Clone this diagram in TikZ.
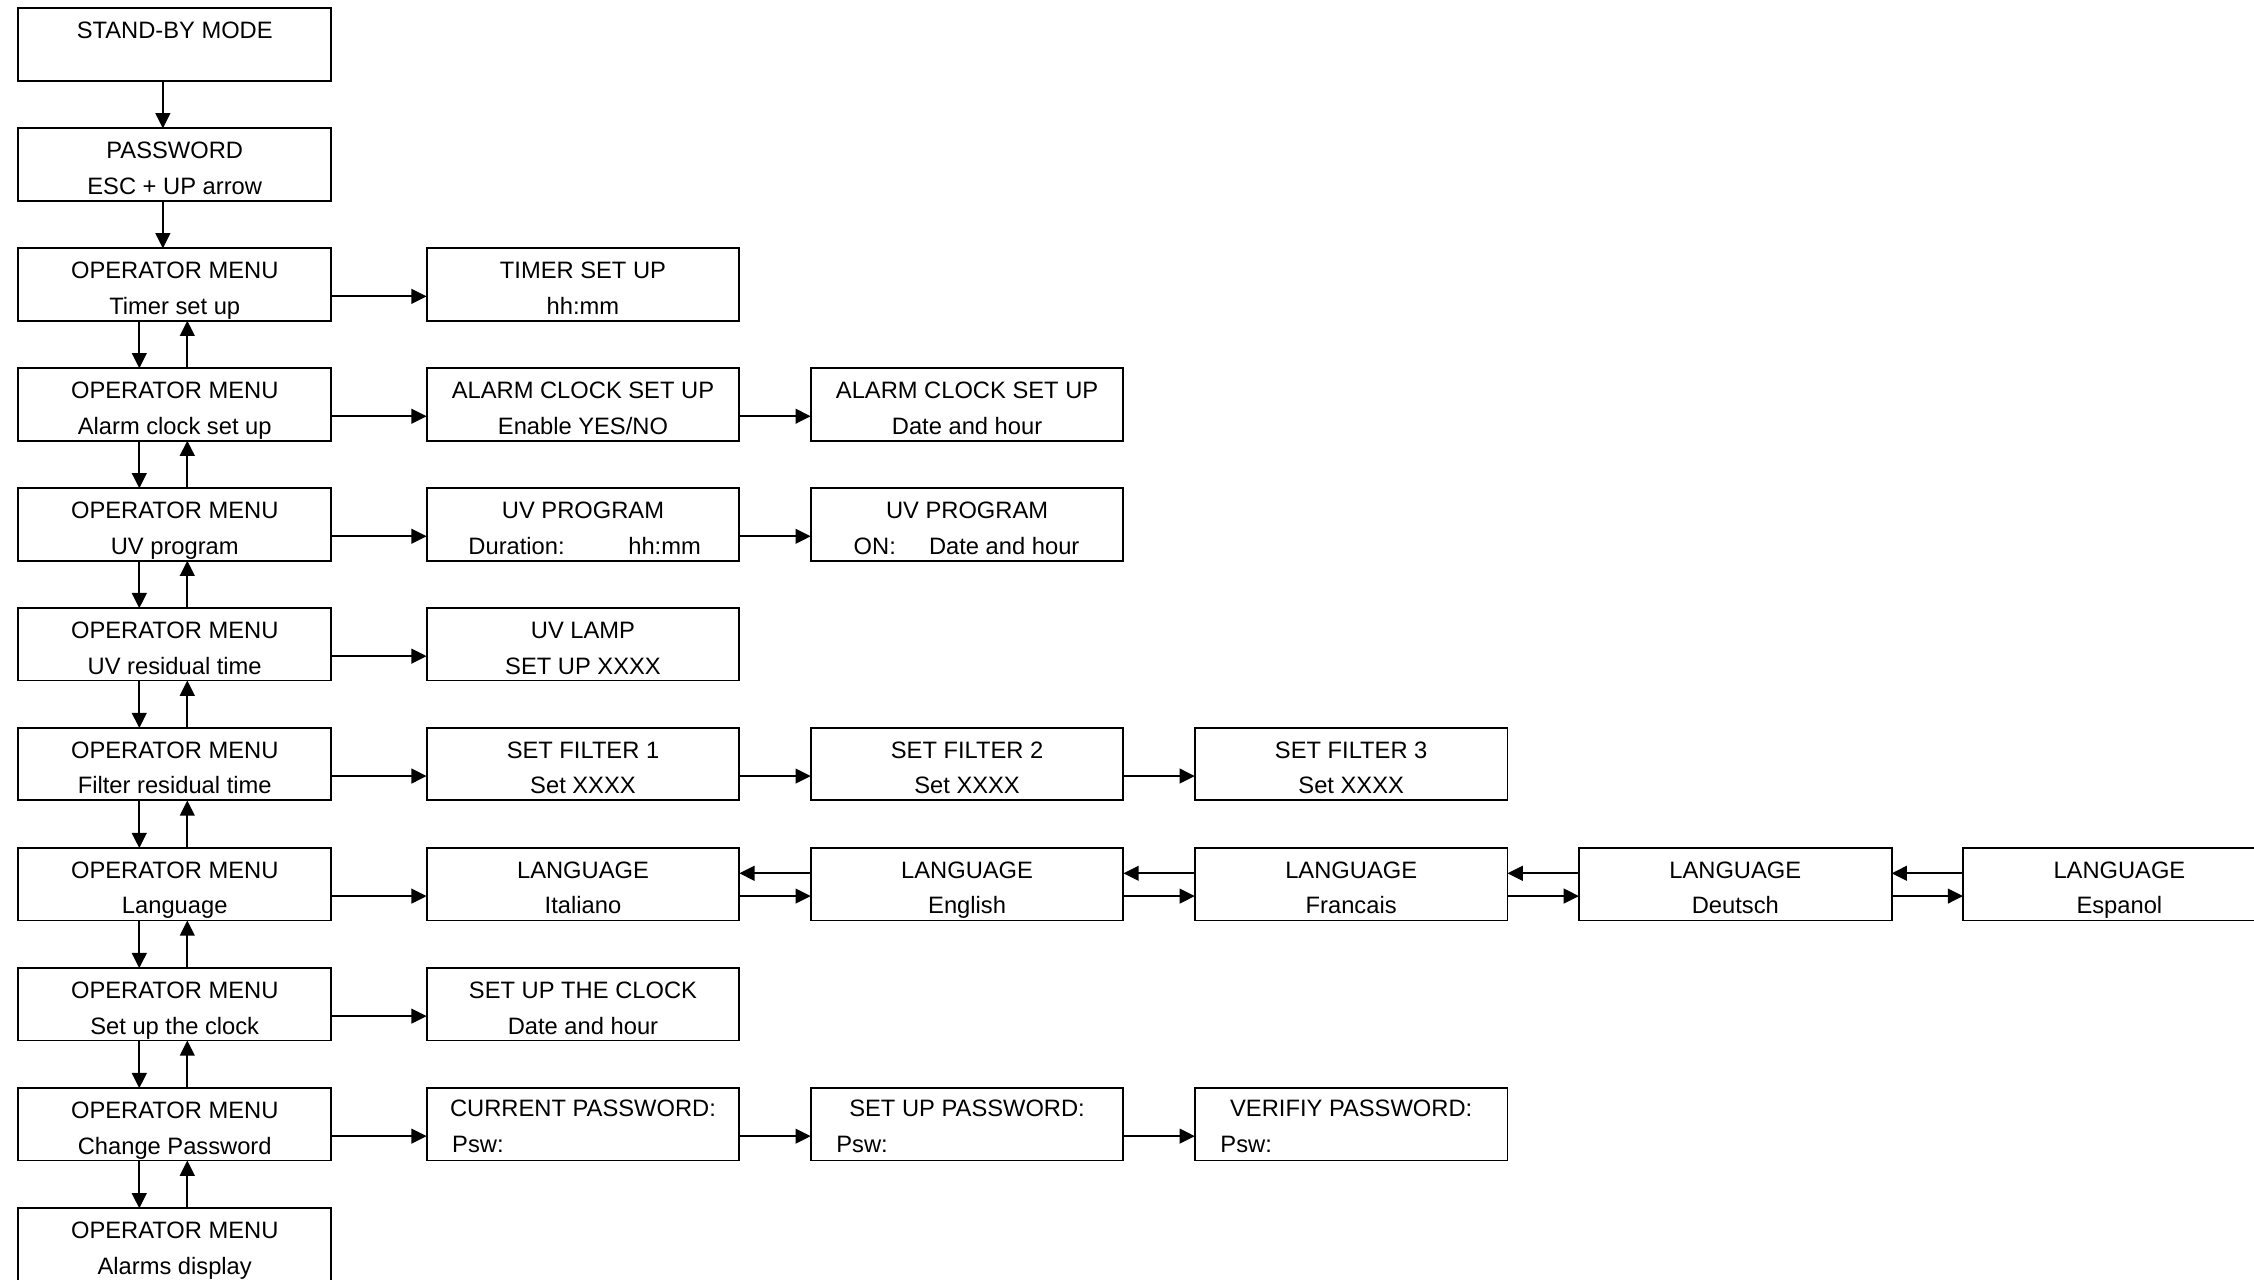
\documentclass[tikz,border=0pt]{standalone}
\usepackage{fontspec}
\setmainfont{Liberation Sans}
\usetikzlibrary{arrows.meta,calc}
\tikzset{
  bx/.style={draw, line width=0.65pt, minimum width=108.75pt, minimum height=25.15pt, inner sep=0pt, outer sep=0pt, anchor=north west},
  tx/.style={anchor=base, inner sep=0pt, font=\fontsize{8.25}{10}\selectfont},
  txl/.style={anchor=base west, inner sep=0pt, font=\fontsize{8.25}{10}\selectfont},
  arr/.style={line width=0.75pt, -{Triangle[length=5.3pt,width=5.1pt]}}
}
\newcommand\mkbox[5]{%
  \node[bx] (#1) at (#2,#3) {};
  \node[tx] (#1-a) at ({#2+108.75},{#3+21}) {#4};
  \node[tx] (#1-b) at ({#2+108.75},{#3+45.8}) {#5};
}
\newcommand\harr[2]{\draw[arr] ($(#1.east)+(0,8.2)$) -- ($(#2.west)+(0,8.2)$);}
\newcommand\larr[2]{\draw[arr] ($(#1.west)+(0,-7.65)$) -- ($(#2.east)+(0,-7.65)$);}
\newcommand\vpair[2]{%
  \draw[arr] ($(#1.south)+(-24.65,0)$) -- ($(#2.north)+(-24.65,0)$);
  \draw[arr] ($(#2.north)+(8.75,0)$) -- ($(#1.south)+(8.75,0)$);
}
\begin{document}
\begin{tikzpicture}[x=0.5pt,y=-0.5pt]
\clip (0,0) rectangle (1568,890);
\fill[white] (0,0) rectangle (1568,890);
% column 1
\node[bx] (sb) at (12.8,5.8) {};
\node[tx] (sb-a) at (121.55,26.8) {STAND-BY MODE};
\mkbox{pw}{12.8}{89.3}{PASSWORD}{ESC + UP arrow}
\mkbox{m3}{12.8}{172.8}{OPERATOR MENU}{Timer set up}
\mkbox{m4}{12.8}{256.2}{OPERATOR MENU}{Alarm clock set up}
\mkbox{m5}{12.8}{339.7}{OPERATOR MENU}{UV program}
\mkbox{m6}{12.8}{423.1}{OPERATOR MENU}{UV residual time}
\mkbox{m7}{12.8}{506.5}{OPERATOR MENU}{Filter residual time}
\mkbox{m8}{12.8}{590.0}{OPERATOR MENU}{Language}
\mkbox{m9}{12.8}{673.5}{OPERATOR MENU}{Set up the clock}
\mkbox{m10}{12.8}{757.0}{OPERATOR MENU}{Change Password}
\mkbox{m11}{12.8}{840.6}{OPERATOR MENU}{Alarms display}
% row 3
\mkbox{t1}{296.8}{172.8}{TIMER SET UP}{hh:mm}
% row 4
\mkbox{a1}{296.8}{256.2}{ALARM CLOCK SET UP}{Enable YES/NO}
\mkbox{a2}{564.0}{256.2}{ALARM CLOCK SET UP}{Date and hour}
% row 5
\node[bx] (u1) at (296.8,339.7) {};
\node[tx] (u1-a) at (405.55,360.7) {UV PROGRAM};
\node[txl] (u1-b) at (325.5,385.5) {Duration:};
\node[txl] (u1-c) at (436.7,385.5) {hh:mm};
\node[bx] (u2) at (564.0,339.7) {};
\node[tx] (u2-a) at (672.75,360.7) {UV PROGRAM};
\node[txl] (u2-b) at (593.5,385.5) {ON:};
\node[txl] (u2-c) at (645.9,385.5) {Date and hour};
% row 6
\mkbox{l1}{296.8}{423.1}{UV LAMP}{SET UP XXXX}
% row 7
\mkbox{f1}{296.8}{506.5}{SET FILTER 1}{Set XXXX}
\mkbox{f2}{564.0}{506.5}{SET FILTER 2}{Set XXXX}
\mkbox{f3}{831.2}{506.5}{SET FILTER 3}{Set XXXX}
% row 8
\mkbox{g1}{296.8}{590.0}{LANGUAGE}{Italiano}
\mkbox{g2}{564.0}{590.0}{LANGUAGE}{English}
\mkbox{g3}{831.2}{590.0}{LANGUAGE}{Francais}
\mkbox{g4}{1098.4}{590.0}{LANGUAGE}{Deutsch}
\mkbox{g5}{1365.6}{590.0}{LANGUAGE}{Espanol}
% row 9
\mkbox{c1}{296.8}{673.5}{SET UP THE CLOCK}{Date and hour}
% row 10
\node[bx] (p1) at (296.8,757.0) {};
\node[tx] (p1-a) at (405.55,777.0) {CURRENT PASSWORD:};
\node[txl] (p1-b) at (314.2,801.5) {Psw:};
\node[bx] (p2) at (564.0,757.0) {};
\node[tx] (p2-a) at (672.75,777.0) {SET UP PASSWORD:};
\node[txl] (p2-b) at (581.4,801.5) {Psw:};
\node[bx] (p3) at (831.2,757.0) {};
\node[tx] (p3-a) at (939.95,777.0) {VERIFIY PASSWORD:};
\node[txl] (p3-b) at (848.6,801.5) {Psw:};
% vertical connectors
\draw[arr] ($(sb.south)+(-8.25,0)$) -- ($(pw.north)+(-8.25,0)$);
\draw[arr] ($(pw.south)+(-8.25,0)$) -- ($(m3.north)+(-8.25,0)$);
\vpair{m3}{m4}
\vpair{m4}{m5}
\vpair{m5}{m6}
\vpair{m6}{m7}
\vpair{m7}{m8}
\vpair{m8}{m9}
\vpair{m9}{m10}
\vpair{m10}{m11}
% horizontal connectors
\harr{m3}{t1}
\harr{m4}{a1}
\harr{a1}{a2}
\harr{m5}{u1}
\harr{u1}{u2}
\harr{m6}{l1}
\harr{m7}{f1}
\harr{f1}{f2}
\harr{f2}{f3}
\harr{m8}{g1}
\harr{g1}{g2}
\harr{g2}{g3}
\harr{g3}{g4}
\harr{g4}{g5}
\larr{g2}{g1}
\larr{g3}{g2}
\larr{g4}{g3}
\larr{g5}{g4}
\harr{m9}{c1}
\harr{m10}{p1}
\harr{p1}{p2}
\harr{p2}{p3}
\end{tikzpicture}
\end{document}
